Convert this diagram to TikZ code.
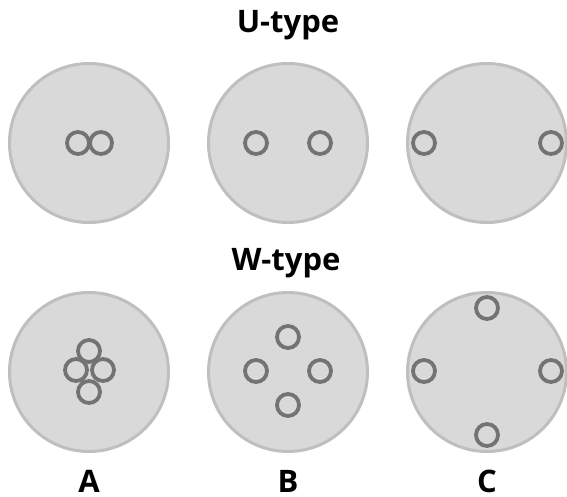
\documentclass[tikz,border=0pt]{standalone}
\usepackage{fontspec}
\setmainfont{Open Sans}
\definecolor{discfill}{HTML}{D9D9D9}
\definecolor{discline}{HTML}{BFBFBF}
\definecolor{holeline}{HTML}{737373}
\begin{document}
\begin{tikzpicture}[x=1pt,y=-1pt,
  disc/.style={circle,draw=discline,fill=discfill,line width=3pt,minimum size=159pt,inner sep=0pt},
  hole/.style={circle,draw=holeline,line width=3.8pt,minimum size=22pt,inner sep=0pt},
  title/.style={font=\bfseries\fontsize{31}{36}\selectfont,text=black,anchor=base,inner sep=0pt}]
\useasboundingbox (0,0) rectangle (567,497);
% titles
\node[title] (tu) at (288,33) {U-type};
\node[title] (tw) at (286,270) {W-type};
% U-type discs
\node[disc] (ua) at (89,143) {};
\node[disc] (ub) at (288,143) {};
\node[disc] (uc) at (487,143) {};
\node[hole] (ua1) at (78,143) {};
\node[hole] (ua2) at (101,143) {};
\node[hole] (ub1) at (256,143) {};
\node[hole] (ub2) at (320,143) {};
\node[hole] (uc1) at (424,143) {};
\node[hole] (uc2) at (551,143) {};
% W-type discs
\node[disc] (wa) at (89,372) {};
\node[disc] (wb) at (288,372) {};
\node[disc] (wc) at (487,372) {};
\node[hole] (wa1) at (89,351) {};
\node[hole] (wa2) at (76,370) {};
\node[hole] (wa3) at (103,370) {};
\node[hole] (wa4) at (89,392) {};
\node[hole] (wb1) at (288,337) {};
\node[hole] (wb2) at (256,371) {};
\node[hole] (wb3) at (320,371) {};
\node[hole] (wb4) at (288,405) {};
\node[hole] (wc1) at (487,308) {};
\node[hole] (wc2) at (424,371) {};
\node[hole] (wc3) at (551,371) {};
\node[hole] (wc4) at (487,435) {};
% labels
\node[title] (la) at (89,492) {A};
\node[title] (lb) at (288,492) {B};
\node[title] (lc) at (487,492) {C};
\end{tikzpicture}
\end{document}
